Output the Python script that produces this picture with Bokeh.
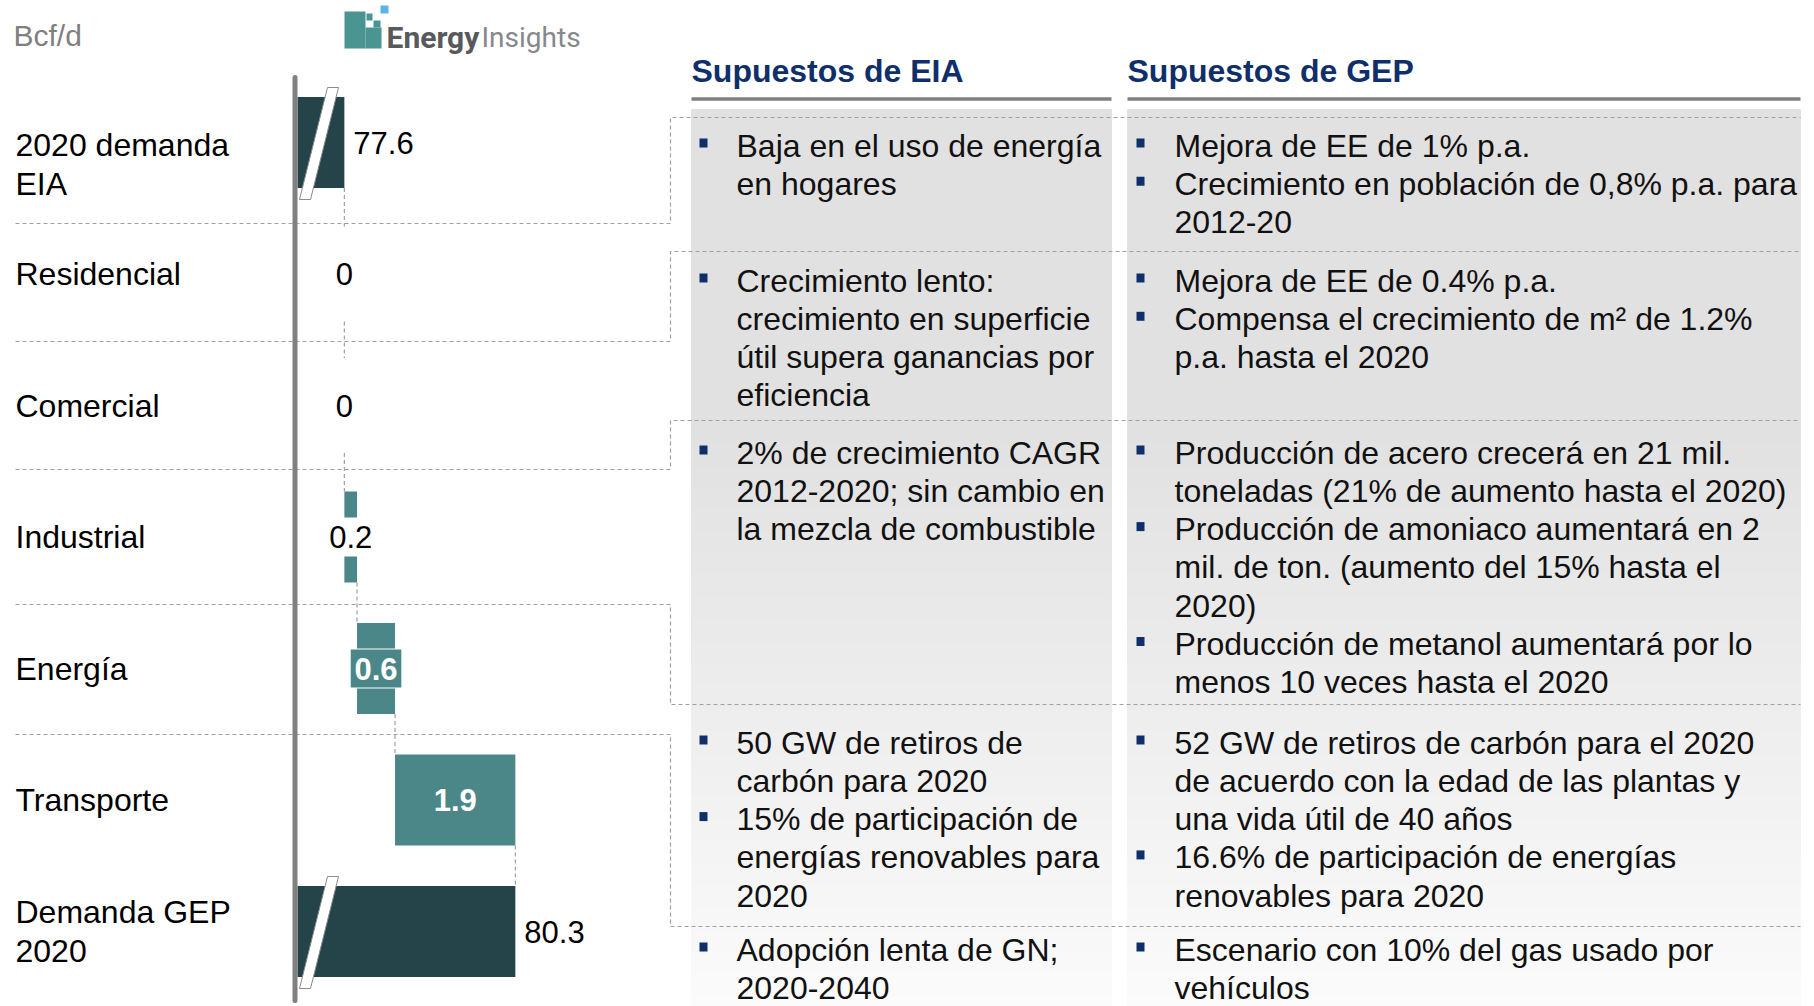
import numpy as np
from bokeh.plotting import figure
from bokeh.models import Range1d, ColumnDataSource
from bokeh.embed import file_html
from bokeh.resources import INLINE
from bokeh.core.properties import value

# ---------------- data ----------------
unit_label = "Bcf/d"
category_lines = [["2020 demanda", "EIA"], ["Residencial"], ["Comercial"], ["Industrial"],
                  ["Energía"], ["Transporte"], ["Demanda GEP", "2020"]]
eia_demand_2020 = 77.6
sector_increments = [0.0, 0.0, 0.2, 0.6, 1.9]      # Residencial .. Transporte
gep_demand_2020 = 80.3
value_labels = ["77.6", "0", "0", "0.2", "0.6", "1.9", "80.3"]
axis_break_value = 76.86

header_eia = "Supuestos de EIA"
header_gep = "Supuestos de GEP"
eia_assumptions = [
    [["Baja en el uso de energía", "en hogares"]],
    [["Crecimiento lento:", "crecimiento en superficie", "útil supera ganancias por", "eficiencia"]],
    [["2% de crecimiento CAGR", "2012-2020; sin cambio en", "la mezcla de combustible"]],
    [["50 GW de retiros de", "carbón para 2020"],
     ["15% de participación de", "energías renovables para", "2020"]],
    [["Adopción lenta de GN;", "2020-2040"]],
]
gep_assumptions = [
    [["Mejora de EE de 1% p.a."],
     ["Crecimiento en población de 0,8% p.a. para", "2012-20"]],
    [["Mejora de EE de 0.4% p.a."],
     ["Compensa el crecimiento de m²  de 1.2%", "p.a. hasta el 2020"]],
    [["Producción de acero crecerá en 21 mil.", "toneladas (21% de aumento hasta el 2020)"],
     ["Producción de amoniaco aumentará en 2", "mil. de ton. (aumento del 15% hasta el", "2020)"],
     ["Producción de metanol aumentará por lo", "menos 10 veces hasta el 2020"]],
    [["52 GW de retiros de carbón para el 2020", "de acuerdo con la edad de las plantas y",
      "una vida útil de 40 años"],
     ["16.6% de participación de energías", "renovables para 2020"]],
    [["Escenario con 10% del gas usado por", "vehículos"]],
]
logo_words = ["Energy", "Insights"]

# ---------------- layout / style ----------------
W, H = 1814, 1006
OFF = 0
FONT = "Liberation Sans"
DARK = "#24444a"
TEAL = "#4b8788"
NAVY = "#0f2f6b"
DASH_C = "#a0a0a0"
TXT = "#111111"

ROW0_PX = 142 - OFF
ROW_STEP = 131.5
PX_PER_UNIT = 63.33
BAR_LEFT_PX = 297 - OFF
HALF = 45.5 / ROW_STEP
GAP = 47.5 / ROW_STEP

CHART_SEP_Y = [223, 341, 469, 604, 734]
TABLE_SEP_Y = [117, 251, 420, 704, 926]
FIRST_LINE_Y = [145, 280, 452, 742, 949]
LINE_H = 38.3
BRACKET_X = 670
LABEL_DY = [22, 0, 0, 0, 0, 0, 0]

p = figure(width=W, height=H, x_range=Range1d(0, W), y_range=Range1d(H, 0),
           output_backend="svg", toolbar_location=None, min_border=0,
           x_axis_location=None, y_axis_location=None,
           outline_line_color=None, background_fill_color="white",
           border_fill_color="white")
p.grid.visible = False

v_at0 = axis_break_value - BAR_LEFT_PX / PX_PER_UNIT
p.extra_x_ranges = {"val": Range1d(v_at0, v_at0 + W / PX_PER_UNIT)}
p.extra_y_ranges = {"row": Range1d((H - ROW0_PX) / ROW_STEP, -ROW0_PX / ROW_STEP)}

def px(v):
    return v - OFF

# ---------- table panels (gradient) ----------
panels = [(691, 1111), (1127, 1800)]
ys = np.arange(109, 1010, 3)
cols = []
for y in ys:
    g = 225 if y < 430 else 225 + (251 - 225) * (y - 430) / (1006 - 430)
    c = int(round(g))
    cols.append("#%02x%02x%02x" % (c, c, c))
for (x0, x1) in panels:
    src = ColumnDataSource(dict(top=ys - OFF, bottom=ys + 3 - OFF, c=cols))
    p.quad(left=px(x0), right=px(x1), top="top", bottom="bottom", source=src,
           fill_color="c", line_color="c", line_width=1)

# headers
for (x0, x1), t in zip(panels, [header_eia, header_gep]):
    p.text(x=[px(x0)], y=[px(70)], text=[t], text_font=value(FONT), text_font_style="bold",
           text_font_size="32px", text_color=NAVY, text_baseline="middle", text_align="left")
    p.segment(x0=[px(x0)], y0=[px(98.5)], x1=[px(x1)], y1=[px(98.5)],
              line_color="#808080", line_width=3.5)

# separators + brackets
xs_l, ys_l = [], []
for cy, ty in zip(CHART_SEP_Y, TABLE_SEP_Y):
    xs_l.append([px(15), px(BRACKET_X), px(BRACKET_X), px(1800)])
    ys_l.append([px(cy), px(cy), px(ty), px(ty)])
p.multi_line(xs=xs_l, ys=ys_l, line_color=DASH_C, line_dash="4 3", line_width=1.2)

# table text
for col_data, bx, tx in [(eia_assumptions, 703, 736), (gep_assumptions, 1140, 1174)]:
    tx_x, tx_y, tx_t, b_y = [], [], [], []
    for r, items in enumerate(col_data):
        y = FIRST_LINE_Y[r]
        for item in items:
            b_y.append(y - 2.5)
            for line in item:
                tx_x.append(px(tx)); tx_y.append(px(y)); tx_t.append(line)
                y += LINE_H
    p.text(x=tx_x, y=tx_y, text=tx_t, text_font=value(FONT), text_font_size="32px",
           text_color=TXT, text_baseline="middle", text_align="left")
    b_y = np.array(b_y)
    p.quad(left=px(bx - 4), right=px(bx + 4), top=b_y - 4.5 - OFF, bottom=b_y + 4.5 - OFF,
           fill_color=NAVY, line_color=None)

# ---------- waterfall ----------
n = len(category_lines)
lefts, rights, kinds = [axis_break_value], [eia_demand_2020], ["total"]
cum = eia_demand_2020
for inc in sector_increments:
    lefts.append(cum); rights.append(cum + inc); kinds.append("delta")
    cum += inc
lefts.append(axis_break_value); rights.append(gep_demand_2020); kinds.append("total")
idx = list(range(n))

tot = [i for i in idx if kinds[i] == "total"]
dl = [i for i in idx if kinds[i] == "delta" and rights[i] > lefts[i]]
p.quad(left=[lefts[i] for i in tot], right=[rights[i] for i in tot],
       top=[i - HALF for i in tot], bottom=[i + HALF for i in tot],
       fill_color=DARK, line_color=None, x_range_name="val", y_range_name="row")
p.quad(left=[lefts[i] for i in dl], right=[rights[i] for i in dl],
       top=[i - HALF for i in dl], bottom=[i + HALF for i in dl],
       fill_color=TEAL, line_color=None, x_range_name="val", y_range_name="row")

def ext(i):
    return HALF if rights[i] > lefts[i] else GAP

cx0, cy0, cx1, cy1 = [], [], [], []
for i in range(n - 1):
    cx0.append(rights[i]); cx1.append(rights[i])
    cy0.append(i + ext(i)); cy1.append(i + 1 - ext(i + 1))
p.segment(x0=cx0, y0=cy0, x1=cx1, y1=cy1, line_color=DASH_C, line_dash="4 3",
          line_width=1.2, x_range_name="val", y_range_name="row")

# value labels
for i in idx:
    t = value_labels[i]
    if kinds[i] == "total":
        p.text(x=[rights[i]], y=[i], text=[t], x_offset=9, text_font=value(FONT),
               text_font_size="31px", text_color="black", text_baseline="middle",
               text_align="left", x_range_name="val", y_range_name="row")
        continue
    inc = rights[i] - lefts[i]
    mid = (lefts[i] + rights[i]) / 2
    bar_px = inc * PX_PER_UNIT
    if inc == 0:
        p.text(x=[mid], y=[i], text=[t], text_font=value(FONT), text_font_size="31px",
               text_color="black", text_baseline="middle", text_align="center",
               x_range_name="val", y_range_name="row")
    elif inc < 0.3:
        p.rect(x=[mid], y=[i], width=bar_px + 6, height=39, width_units="screen",
               height_units="screen", fill_color="white", line_color=None,
               x_range_name="val", y_range_name="row")
        p.text(x=[mid], y=[i], text=[t], text_font=value(FONT), text_font_size="31px",
               text_color="black", text_baseline="middle", text_align="center",
               x_range_name="val", y_range_name="row")
    else:
        tw = len(t) * 0.47 * 31
        if tw + 6 > bar_px:
            p.rect(x=[mid], y=[i], width=tw + 8, height=39, width_units="screen",
                   height_units="screen", fill_color=TEAL, line_color="white", line_width=1,
                   x_range_name="val", y_range_name="row")
        p.text(x=[mid], y=[i], text=[t], text_font=value(FONT), text_font_style="bold",
               text_font_size="31px", text_color="white", text_baseline="middle",
               text_align="center", x_range_name="val", y_range_name="row")

# break marks on total bars
bx_list, by_list = [], []
for i in tot:
    c = ROW0_PX + ROW_STEP * i
    bx_list.append([px(327), px(338), px(310), px(299)])
    by_list.append([c - 55, c - 55, c + 57, c + 57])
p.patches(xs=bx_list, ys=by_list, fill_color="white", line_color="#8c8c8c", line_width=1)

# value axis line
p.segment(x0=[px(294.5)], y0=[px(77)], x1=[px(294.5)], y1=[px(1000)],
          line_color="#808080", line_width=5, line_cap="round")

# category labels
lx, ly, lt = [], [], []
for i, lines in enumerate(category_lines):
    k = len(lines)
    for j, line in enumerate(lines):
        lx.append(px(15))
        ly.append(ROW0_PX + ROW_STEP * i + LABEL_DY[i] + (j - (k - 1) / 2) * 38.5)
        lt.append(line)
p.text(x=lx, y=ly, text=lt, text_font=value(FONT), text_font_size="32px",
       text_color="black", text_baseline="middle", text_align="left")

# unit label
p.text(x=[px(13)], y=[px(35)], text=[unit_label], text_font=value(FONT),
       text_font_size="30px", text_color="#7f7f7f", text_baseline="middle", text_align="left")

# logo
p.quad(left=[px(344), px(365), px(366), px(373)], right=[px(365), px(381), px(372), px(380)],
       top=[px(11), px(27), px(13), px(20)], bottom=[px(48), px(48), px(20), px(27)],
       fill_color="#4a9591", line_color=None)
p.quad(left=[px(380)], right=[px(388)], top=[px(5)], bottom=[px(13)],
       fill_color="#5cb3e6", line_color=None)
p.text(x=[px(386)], y=[px(37)], text=[logo_words[0]], text_font=value("Roboto"),
       text_font_style="bold", text_font_size="30px", text_color="#58595b",
       text_baseline="alphabetic", text_align="left")
p.text(x=[px(481)], y=[px(37)], text=[logo_words[1]], text_font=value("Roboto"),
       text_font_size="28px", text_color="#86888a",
       text_baseline="alphabetic", text_align="left")

open("out.html", "w").write(file_html(p, INLINE))
